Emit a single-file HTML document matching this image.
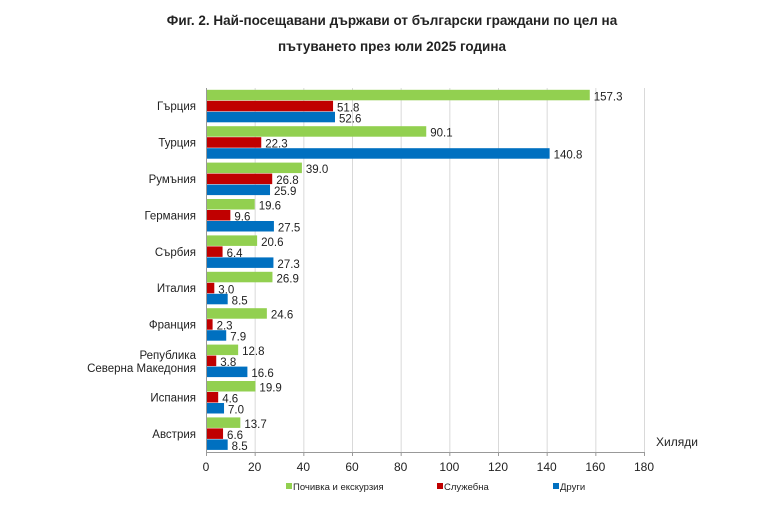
<!DOCTYPE html>
<html><head><meta charset="utf-8"><style>
body{margin:0;background:#fff;width:781px;height:501px;overflow:hidden}
svg text{font-family:"Liberation Sans","DejaVu Sans",sans-serif;fill:#222}
</style></head><body>
<svg width="781" height="501" xmlns="http://www.w3.org/2000/svg">
<text x="392" y="25" font-size="13.5" font-weight="bold" text-anchor="middle">Фиг. 2. Най-посещавани държави от български граждани по цел на</text>
<text x="392" y="51" font-size="13.5" font-weight="bold" text-anchor="middle">пътуването през юли 2025 година</text>
<g id="grid" stroke="#d9d9d9" stroke-width="1"></g>
<g id="bars"></g>
<line x1="206.5" y1="88" x2="206.5" y2="452" stroke="#999"/>
<line x1="206" y1="452.5" x2="644" y2="452.5" stroke="#999"/>
<g id="labels" font-size="11.5"></g>
<text x="656" y="446" font-size="12">Хиляди</text>
<rect x="286" y="483" width="6" height="6" fill="#92d050"/><text x="293" y="490" font-size="9.5">Почивка и екскурзия</text>
<rect x="437" y="483" width="6" height="6" fill="#c00000"/><text x="444" y="490" font-size="9.5">Служебна</text>
<rect x="553" y="483" width="6" height="6" fill="#0070c0"/><text x="560" y="490" font-size="9.5">Други</text>
</svg>
<script>
(function(){
var ns="http://www.w3.org/2000/svg";
var d=[["Гърция",157.3,51.8,52.6],["Турция",90.1,22.3,140.8],["Румъния",39.0,26.8,25.9],["Германия",19.6,9.6,27.5],["Сърбия",20.6,6.4,27.3],["Италия",26.9,3.0,8.5],["Франция",24.6,2.3,7.9],["Република|Северна Македония",12.8,3.8,16.6],["Испания",19.9,4.6,7.0],["Австрия",13.7,6.6,8.5]];
var col=["#92d050","#c00000","#0070c0"];
var x0=206,k=438/180,T=88,pitch=36.4;
function el(t,a,p,txt){var e=document.createElementNS(ns,t);for(var i in a)e.setAttribute(i,a[i]);if(txt!=null)e.textContent=txt;document.getElementById(p).appendChild(e);return e;}
for(var v=20;v<=180;v+=20){var x=x0+v*k;el("line",{x1:x+.5,y1:T,x2:x+.5,y2:452},"grid");}
for(var v=0;v<=180;v+=20){el("text",{x:x0+v*k,y:471,"text-anchor":"middle","font-size":"12"},"labels",v);el("line",{x1:x0+v*k+.5,y1:452,x2:x0+v*k+.5,y2:456,stroke:"#999"},"grid");}
d.forEach(function(r,i){var g=T+i*pitch+1.8;
 for(var j=0;j<3;j++){var y=g+j*11,w=r[j+1]*k;
  el("rect",{x:x0+1,y:y,width:w,height:10.5,fill:col[j]},"bars");
  el("text",{x:x0+w+5,y:y+10.5},"labels",r[j+1].toFixed(1));}
 var cy=T+i*pitch+pitch/2;
 var parts=r[0].split("|");
 if(parts.length==1)el("text",{x:196,y:cy+4,"text-anchor":"end"},"labels",parts[0]);
 else{el("text",{x:196,y:cy-2,"text-anchor":"end"},"labels",parts[0]);el("text",{x:196,y:cy+11,"text-anchor":"end"},"labels",parts[1]);}
});
})();
</script>
</body></html>
